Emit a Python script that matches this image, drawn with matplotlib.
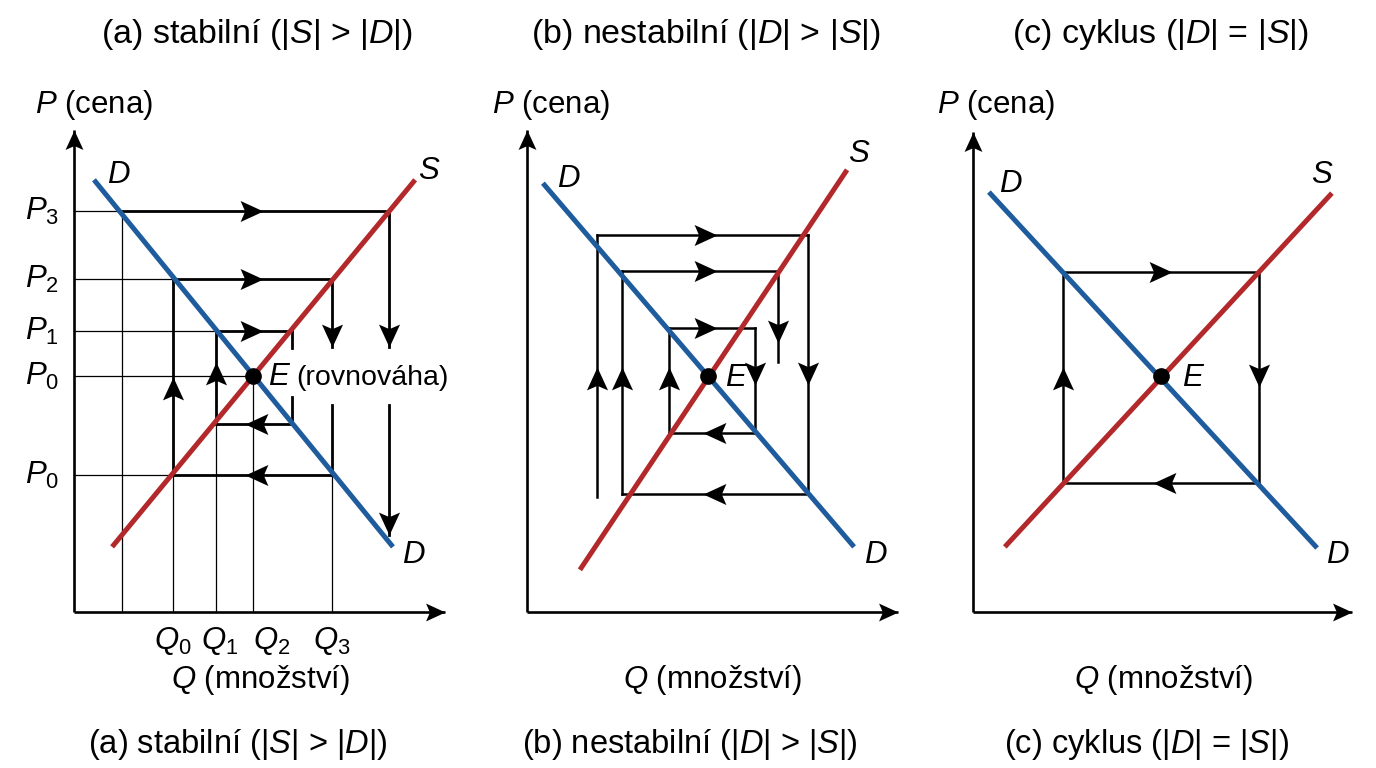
import numpy as np
import matplotlib
matplotlib.use("Agg")
import matplotlib.pyplot as plt
from matplotlib.path import Path

plt.rcParams["font.family"] = ["Liberation Sans", "DejaVu Sans"]
plt.rcParams["mathtext.fontset"] = "custom"
plt.rcParams["mathtext.rm"] = "Liberation Sans"
plt.rcParams["mathtext.it"] = "Liberation Sans:italic"
plt.rcParams["mathtext.bf"] = "Liberation Sans:bold"

# ---------------- data (Q, P in chart units) ----------------
# panel (a) stable cobweb
a_D_q = [0.54, 8.62]
a_D_p = [11.68, 1.76]
a_S_q = [1.03, 9.22]
a_S_p = [1.76, 11.68]
a_E = (4.84, 6.38)
a_price_levels = [10.84, 9.00, 7.59, 6.38, 3.70]
a_price_labels = ["$P_3$", "$P_2$", "$P_1$", "$P_0$", "$P_0$"]
a_qty_levels = [2.68, 3.84, 4.84, 6.97]
a_qty_labels = ["$Q_0$", "$Q_1$", "$Q_2$", "$Q_3$"]
# thin guides: (q_end, p) horizontal from axis, (q, p_end) vertical from axis
a_guides_h = [(1.30, 10.84), (2.68, 9.00), (3.84, 7.59), (4.84, 6.38), (2.68, 3.70)]
a_guides_v = [(1.30, 10.84), (2.68, 3.70), (3.84, 5.08), (4.84, 6.38), (6.97, 3.70)]
# thick cobweb segments (q1, p1, q2, p2)
a_segments = [
    (1.30, 10.84, 8.51, 10.84), (8.51, 10.84, 8.51, 7.16), (8.51, 5.59, 8.51, 2.08),
    (2.68, 9.00, 6.97, 9.00), (6.97, 9.00, 6.97, 7.16), (6.97, 5.59, 6.97, 3.70),
    (6.97, 3.70, 2.68, 3.70), (2.68, 3.70, 2.68, 9.00),
    (3.84, 7.59, 5.89, 7.59), (5.89, 7.59, 5.89, 7.14), (5.89, 5.81, 5.89, 5.08),
    (5.89, 5.08, 3.84, 5.08), (3.84, 5.08, 3.84, 7.59),
]
# arrow heads (tip q, tip p, direction)
a_heads = [
    (5.11, 10.84, "r"), (5.11, 9.00, "r"), (5.11, 7.59, "r"),
    (8.51, 7.16, "d"), (6.97, 7.16, "d"), (8.51, 2.08, "d"),
    (4.62, 3.70, "l"), (4.62, 5.08, "l"),
    (2.68, 6.35, "u"), (3.84, 6.76, "u"),
]

# panel (b) unstable cobweb
b_D_q = [0.43, 8.84]
b_D_p = [11.59, 1.76]
b_S_q = [1.43, 8.65]
b_S_p = [1.14, 11.95]
b_E = (4.89, 6.38)
b_segments = [
    (1.89, 10.19, 7.59, 10.19), (2.57, 9.22, 6.78, 9.22), (3.84, 7.68, 6.16, 7.68),
    (6.16, 4.84, 3.84, 4.84), (7.59, 3.19, 2.57, 3.19),
    (1.89, 3.11, 1.89, 10.19), (2.57, 3.19, 2.57, 9.22), (3.84, 4.84, 3.84, 7.68),
    (6.16, 7.68, 6.16, 4.84), (6.78, 9.22, 6.78, 6.76), (7.59, 10.19, 7.59, 3.19),
]
b_heads = [
    (5.14, 10.19, "r"), (5.14, 9.22, "r"), (5.14, 7.68, "r"),
    (4.76, 4.84, "l"), (4.76, 3.19, "l"),
    (1.89, 6.62, "u"), (2.57, 6.62, "u"), (3.84, 6.62, "u"),
    (6.16, 6.14, "d"), (7.59, 6.14, "d"), (6.78, 7.27, "d"),
]

# panel (c) cycle
c_D_q = [0.43, 9.30]
c_D_p = [11.35, 1.73]
c_S_q = [0.86, 9.70]
c_S_p = [1.76, 11.32]
c_E = (5.08, 6.38)
c_box_q = [2.43, 7.73]
c_box_p = [3.49, 9.19]
c_heads = [(5.39, 9.19, "r"), (7.73, 6.08, "d"), (4.86, 3.49, "l"), (2.43, 6.62, "u")]

titles = ["(a) stabilní (|$S$| > |$D$|)",
          "(b) nestabilní (|$D$| > |$S$|)",
          "(c) cyklus (|$D$| = |$S$|)"]

# ---------------- style ----------------
BLUE = "#1f5c9e"
RED = "#b3292b"
W, H = 1376, 768
U = 37.0          # pixels per chart unit
OY = 612          # pixel row of the Q axis
FS = 22.5

fig = plt.figure(figsize=(W / 100, H / 100), dpi=100)


def make_ax(ox):
    lp, rp, tp, bp = ox - 74, ox + 402, 95, 668
    ax = fig.add_axes([lp / W, (H - bp) / H, (rp - lp) / W, (bp - tp) / H])
    ax.set_xlim((lp - ox) / U, (rp - ox) / U)
    ax.set_ylim((OY - bp) / U, (OY - tp) / U)
    ax.set_axis_off()
    return ax


_base = np.array([[0, 0], [-1, 0.46], [-0.8, 0], [-1, -0.46], [0, 0]])
_codes = [Path.MOVETO, Path.LINETO, Path.LINETO, Path.LINETO, Path.CLOSEPOLY]
_ang = {"r": 0, "u": 90, "l": 180, "d": 270}


def head_marker(d):
    t = np.deg2rad(_ang[d])
    R = np.array([[np.cos(t), -np.sin(t)], [np.sin(t), np.cos(t)]])
    return Path(_base @ R.T, _codes)


def heads(ax, lst, ms=33):
    for q, p, d in lst:
        ax.plot([q], [p], marker=head_marker(d), ms=ms, color="k", mew=0,
                linestyle="none", zorder=6)


def axes_arrows(ax, xend, yend):
    ax.plot([0, xend], [0, 0], color="k", lw=1.9, solid_capstyle="butt", zorder=2)
    ax.plot([0, 0], [0, yend], color="k", lw=1.9, solid_capstyle="butt", zorder=2)
    heads(ax, [(xend, 0, "r"), (0, yend, "u")], ms=28)


def curves(ax, dq, dp, sq, sp, E):
    ax.plot(dq, dp, color=BLUE, lw=3.6, solid_capstyle="butt", zorder=4)
    ax.plot(sq, sp, color=RED, lw=3.6, solid_capstyle="butt", zorder=4)
    ax.plot([E[0]], [E[1]], "o", color="k", ms=11, zorder=7)


def segs(ax, lst, lw):
    for q1, p1, q2, p2 in lst:
        ax.plot([q1, q2], [p1, p2], color="k", lw=lw, solid_capstyle="projecting", zorder=3)


def label(ax, ox, px, py, s, ha="left", size=FS):
    ax.text((px - ox) / U, (OY - py) / U, s, ha=ha, va="baseline", fontsize=size, zorder=8)


# ---------- panel (a) ----------
oxa = 74
axa = make_ax(oxa)
axes_arrows(axa, 10.03, 13.03)
for q, p in a_guides_h:
    axa.plot([0, q], [p, p], color="k", lw=0.9, zorder=1)
for q, p in a_guides_v:
    axa.plot([q, q], [0, p], color="k", lw=0.9, zorder=1)
segs(axa, a_segments, 2.0)
curves(axa, a_D_q, a_D_p, a_S_q, a_S_p, a_E)
heads(axa, a_heads)
for p, s in zip(a_price_levels, a_price_labels):
    axa.annotate(s, xy=(0, p), xytext=(-32, -9), textcoords="offset pixels",
                 ha="center", va="baseline", fontsize=FS)
q_dx = [0, 4, 19, 0]
for q, s, dx in zip(a_qty_levels, a_qty_labels, q_dx):
    axa.annotate(s, xy=(q, 0), xytext=(dx, -37), textcoords="offset pixels",
                 ha="center", va="baseline", fontsize=FS)
label(axa, oxa, 35, 113, "$P$ (cena)")
label(axa, oxa, 260, 688, "$Q$ (množství)", ha="center")
label(axa, oxa, 119, 183, "$D$", ha="center")
label(axa, oxa, 429, 179, "$S$", ha="center")
label(axa, oxa, 414, 563, "$D$", ha="center")
label(axa, oxa, 268, 385, "$E$")
label(axa, oxa, 296, 385, "(rovnováha)", size=20.5)

# ---------- panel (b) ----------
oxb = 527
axb = make_ax(oxb)
axes_arrows(axb, 10.03, 13.03)
segs(axb, b_segments, 1.8)
curves(axb, b_D_q, b_D_p, b_S_q, b_S_p, b_E)
heads(axb, b_heads)
label(axb, oxb, 492, 113, "$P$ (cena)")
label(axb, oxb, 712, 688, "$Q$ (množství)", ha="center")
label(axb, oxb, 569, 187, "$D$", ha="center")
label(axb, oxb, 859, 162, "$S$", ha="center")
label(axb, oxb, 876, 563, "$D$", ha="center")
label(axb, oxb, 725, 386, "$E$")

# ---------- panel (c) ----------
oxc = 973
axc = make_ax(oxc)
axes_arrows(axc, 10.24, 12.97)
q0, q1 = c_box_q
p0, p1 = c_box_p
axc.plot([q0, q1, q1, q0, q0], [p1, p1, p0, p0, p1], color="k", lw=1.8,
         solid_joinstyle="miter", zorder=3)
curves(axc, c_D_q, c_D_p, c_S_q, c_S_p, c_E)
heads(axc, c_heads)
label(axc, oxc, 937, 113, "$P$ (cena)")
label(axc, oxc, 1163, 688, "$Q$ (množství)", ha="center")
label(axc, oxc, 1011, 192, "$D$", ha="center")
label(axc, oxc, 1322, 183, "$S$", ha="center")
label(axc, oxc, 1338, 563, "$D$", ha="center")
label(axc, oxc, 1182, 386, "$E$")

# ---------- titles ----------
top_x = [257, 706, 1160]
bot_x = [238, 690, 1146]
for t, xt, xb in zip(titles, top_x, bot_x):
    fig.text(xt / W, 1 - 43 / H, t, ha="center", va="baseline", fontsize=24.5)
    fig.text(xb / W, 1 - 753 / H, t, ha="center", va="baseline", fontsize=23.5)

fig.savefig("out.png", dpi=100)
